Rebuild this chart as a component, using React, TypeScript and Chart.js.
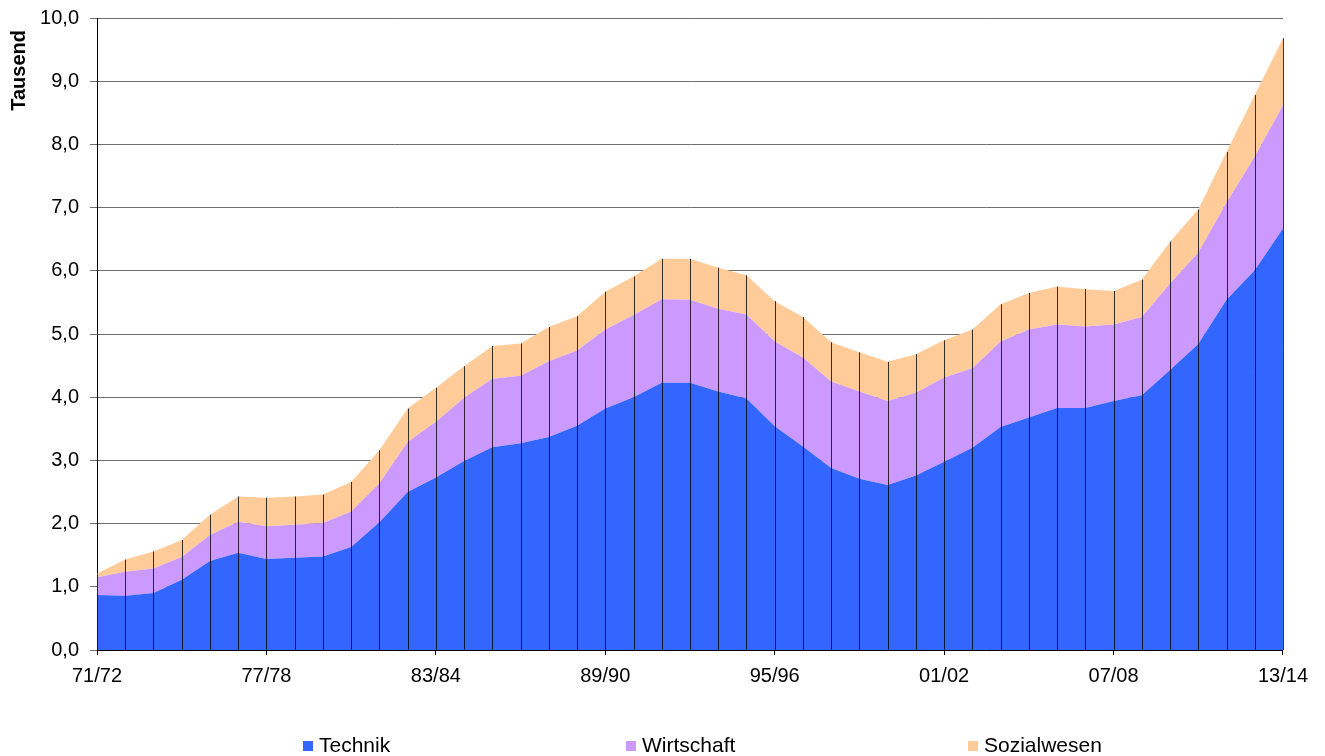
import React, { useEffect, useRef } from "react";
import { Chart, registerables } from "chart.js";

Chart.register(...registerables);

const labels: string[] = [
  "71/72", "72/73", "73/74", "74/75", "75/76", "76/77", "77/78", "78/79", "79/80", "80/81",
  "81/82", "82/83", "83/84", "84/85", "85/86", "86/87", "87/88", "88/89", "89/90", "90/91",
  "91/92", "92/93", "93/94", "94/95", "95/96", "96/97", "97/98", "98/99", "99/00", "00/01",
  "01/02", "02/03", "03/04", "04/05", "05/06", "06/07", "07/08", "08/09", "09/10", "10/11",
  "11/12", "12/13", "13/14",
];

const technik: number[] = [
  0.87, 0.86, 0.9, 1.11, 1.41, 1.54, 1.44, 1.46, 1.48, 1.63,
  2.02, 2.5, 2.73, 2.99, 3.21, 3.27, 3.37, 3.55, 3.82, 4.0,
  4.23, 4.23, 4.09, 3.98, 3.54, 3.22, 2.88, 2.71, 2.61, 2.76,
  2.98, 3.2, 3.53, 3.68, 3.83, 3.83, 3.94, 4.03, 4.43, 4.84,
  5.54, 6.01, 6.67,
];

const wirtschaft: number[] = [
  0.28, 0.38, 0.39, 0.36, 0.41, 0.49, 0.52, 0.52, 0.53, 0.56,
  0.62, 0.79, 0.88, 1.0, 1.08, 1.07, 1.2, 1.19, 1.25, 1.3,
  1.32, 1.31, 1.31, 1.33, 1.34, 1.41, 1.37, 1.38, 1.33, 1.31,
  1.33, 1.26, 1.35, 1.39, 1.32, 1.29, 1.21, 1.24, 1.37, 1.45,
  1.54, 1.8, 1.95,
];

const sozialwesen: number[] = [
  0.06, 0.19, 0.27, 0.27, 0.32, 0.4, 0.45, 0.45, 0.45, 0.47,
  0.52, 0.53, 0.54, 0.5, 0.52, 0.51, 0.54, 0.54, 0.6, 0.61,
  0.64, 0.65, 0.65, 0.62, 0.64, 0.64, 0.62, 0.62, 0.62, 0.61,
  0.59, 0.61, 0.59, 0.58, 0.6, 0.59, 0.53, 0.59, 0.66, 0.68,
  0.8, 0.97, 1.06,
];

const seriesNames: string[] = ["Technik", "Wirtschaft", "Sozialwesen"];
const seriesColors: string[] = ["#3366FF", "#CC99FF", "#FFCC99"];

const FONT = "'Liberation Sans', Arial, sans-serif";

const dropLines = {
  id: "dropLines",
  afterDatasetsDraw(chart: any) {
    const { ctx, scales } = chart;
    const xs = scales.x;
    const ys = scales.y;
    const n = chart.data.labels.length;
    ctx.save();
    ctx.strokeStyle = "rgba(0,0,0,0.78)";
    ctx.lineWidth = 1;
    for (let i = 0; i < n; i++) {
      let total = 0;
      chart.data.datasets.forEach((ds: any) => {
        total += ds.data[i];
      });
      const x = Math.round(xs.getPixelForValue(i)) + 0.5;
      const yTop = ys.getPixelForValue(total);
      const yBot = ys.getPixelForValue(0);
      ctx.beginPath();
      ctx.moveTo(x, yTop);
      ctx.lineTo(x, yBot);
      ctx.stroke();
    }
    ctx.restore();
  },
};

const yTitle = {
  id: "yTitle",
  afterDraw(chart: any) {
    const { ctx } = chart;
    ctx.save();
    ctx.fillStyle = "#000";
    ctx.font = `bold 20px ${FONT}`;
    ctx.textAlign = "right";
    ctx.textBaseline = "alphabetic";
    ctx.translate(17, 22);
    ctx.rotate(-Math.PI / 2);
    ctx.fillText("Tausend", 0, 0);
    ctx.restore();
  },
};

export default function App() {
  const canvasRef = useRef<HTMLCanvasElement | null>(null);

  useEffect(() => {
    document.documentElement.style.overflow = "hidden";
    if (!canvasRef.current) return;
    const dataSets = [technik, wirtschaft, sozialwesen].map((d, k) => ({
      label: seriesNames[k],
      data: d,
      backgroundColor: seriesColors[k],
      borderColor: seriesColors[k],
      borderWidth: 0,
      pointRadius: 0,
      pointHoverRadius: 0,
      tension: 0,
      fill: k === 0 ? "origin" : "-1",
    }));

    const chart = new Chart(canvasRef.current, {
      type: "line",
      data: { labels, datasets: dataSets as any },
      plugins: [dropLines, yTitle],
      options: {
        animation: false,
        responsive: false,
        devicePixelRatio: 1,
        layout: { padding: { top: 10, right: 33, bottom: 66, left: 0 } },
        font: { family: FONT, size: 20 },
        plugins: {
          legend: { display: false },
          tooltip: { enabled: false },
        },
        elements: { line: { borderWidth: 0 } },
        scales: {
          x: {
            type: "category",
            offset: false,
            grid: {
              display: true,
              drawOnChartArea: false,
              drawTicks: true,
              tickLength: 5,
              tickColor: (c: any) => (c.index % 6 === 0 ? "#000" : "rgba(0,0,0,0)"),
              color: "rgba(0,0,0,0)",
            },
            border: { display: true, color: "#000", width: 1 },
            ticks: {
              autoSkip: false,
              maxRotation: 0,
              minRotation: 0,
              padding: 9,
              color: "#000",
              font: { family: FONT, size: 20 },
              callback: (_v: any, i: number) => (i % 6 === 0 ? labels[i] : ""),
            },
            afterFit: (s: any) => {
              s.height = 40;
            },
          },
          y: {
            stacked: true,
            min: 0,
            max: 10,
            grid: {
              color: "#6e6e6e",
              lineWidth: 1,
              tickLength: 7,
              tickColor: "#6e6e6e",
            },
            border: { display: true, color: "#000", width: 1 },
            ticks: {
              stepSize: 1,
              padding: 11,
              color: "#000",
              font: { family: FONT, size: 20 },
              callback: (v: any) => Number(v).toFixed(1).replace(".", ","),
            },
            afterFit: (s: any) => {
              s.width = 89;
              s.paddingTop = 0;
              s.paddingBottom = 0;
            },
          },
        },
      } as any,
    });
    return () => chart.destroy();
  }, []);

  const legendItems = [
    { box: 295, text: 311 },
    { box: 618, text: 634 },
    { box: 960, text: 976 },
  ];

  return (
    <div style={{ position: "relative", width: 1309, height: 748 }}>
      <canvas ref={canvasRef} width={1309} height={748} style={{ display: "block" }} />
      {legendItems.map((p, k) => (
        <React.Fragment key={k}>
          <div
            style={{
              position: "absolute",
              left: p.box,
              top: 733,
              width: 10,
              height: 10,
              background: seriesColors[k],
            }}
          />
          <div
            style={{
              position: "absolute",
              left: p.text,
              top: 727,
              height: 20,
              lineHeight: "20px",
              fontFamily: FONT,
              fontSize: 21,
              color: "#000",
              whiteSpace: "nowrap",
            }}
          >
            {seriesNames[k]}
          </div>
        </React.Fragment>
      ))}
    </div>
  );
}
